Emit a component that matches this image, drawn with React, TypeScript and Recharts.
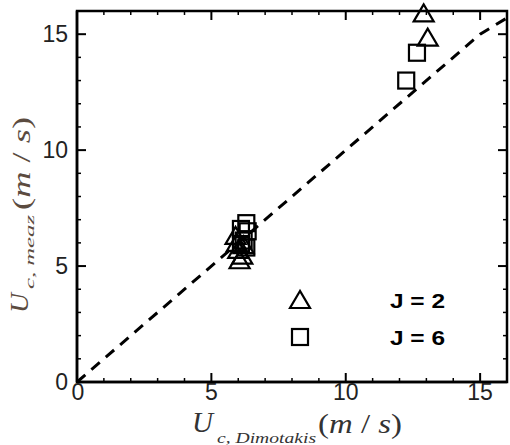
import React from "react";
import { ScatterChart, Scatter, XAxis, YAxis, ReferenceArea } from "recharts";

const xTicks = [0, 1, 2, 3, 4, 5, 6, 7, 8, 9, 10, 11, 12, 13, 14, 15, 16];
const yTicks = [0, 1, 2, 3, 4, 5, 6, 7, 8, 9, 10, 11, 12, 13, 14, 15, 16];
const majorLabels = [0, 5, 10, 15];

const j2X = [5.9, 5.95, 6.0, 6.05, 6.15, 6.2, 12.9, 13.05];
const j2Y = [6.3, 6.0, 5.7, 5.25, 5.45, 5.9, 15.9, 14.85];
const j6X = [6.1, 6.3, 6.35, 6.2, 6.3, 6.1, 12.65, 12.25];
const j6Y = [6.6, 6.85, 6.5, 6.1, 5.8, 5.95, 14.2, 13.0];

const fitX = [0, 15, 16];
const fitY = [0, 15, 15.7];

const legendLabels = ["J = 2", "J = 6"];

const X_MAX = 16;
const Y_MAX = 16;

const j2 = j2X.map((x, i) => ({ x, y: j2Y[i] }));
const j6 = j6X.map((x, i) => ({ x, y: j6Y[i] }));
const fit = fitX.map((x, i) => ({ x, y: fitY[i] }));

const innerX = xTicks.filter((v) => v !== 0 && v !== X_MAX);
const innerY = yTicks.filter((v) => v !== 0 && v !== Y_MAX);
const bottomMarks = innerX.map((v) => ({ x: v, y: 0, major: v % 5 === 0 }));
const topMarks = innerX.map((v) => ({ x: v, y: Y_MAX, major: v % 5 === 0 }));
const leftMarks = innerY.map((v) => ({ x: 0, y: v, major: v % 5 === 0 }));
const rightMarks = innerY.map((v) => ({ x: X_MAX, y: v, major: v % 5 === 0 }));

const TICK_FONT = "Arial, 'Liberation Sans', sans-serif";
const PLOT_TOP = 11;
const PLOT_RIGHT = 507;

const Triangle = (props: any) => {
  const { cx, cy } = props;
  if (cx == null || cy == null) return null;
  const w = 10, h = 9;
  return (
    <polygon
      points={`${cx},${cy - h} ${cx - w},${cy + h - 1} ${cx + w},${cy + h - 1}`}
      fill="none"
      stroke="#000"
      strokeWidth={2.2}
    />
  );
};

const Square = (props: any) => {
  const { cx, cy } = props;
  if (cx == null || cy == null) return null;
  const s = 8;
  return (
    <rect x={cx - s} y={cy - s} width={2 * s} height={2 * s} fill="none" stroke="#000" strokeWidth={2.2} />
  );
};

const markLen = (p: any) => (p && p.major ? 9 : 4);
const markW = (p: any) => (p && p.major ? 2 : 1.5);

const MarkUp = (props: any) => {
  const { cx, cy, payload } = props;
  if (cx == null || cy == null) return null;
  return <path d={`M${cx},${cy} L${cx},${cy - markLen(payload)}`} stroke="#000" strokeWidth={markW(payload)} fill="none" />;
};
const MarkDown = (props: any) => {
  const { cx, cy, payload } = props;
  if (cx == null || cy == null) return null;
  return <path d={`M${cx},${cy} L${cx},${cy + markLen(payload)}`} stroke="#000" strokeWidth={markW(payload)} fill="none" />;
};
const MarkRight = (props: any) => {
  const { cx, cy, payload } = props;
  if (cx == null || cy == null) return null;
  return <path d={`M${cx},${cy} L${cx + markLen(payload)},${cy}`} stroke="#000" strokeWidth={markW(payload)} fill="none" />;
};
const MarkLeft = (props: any) => {
  const { cx, cy, payload } = props;
  if (cx == null || cy == null) return null;
  return <path d={`M${cx},${cy} L${cx - markLen(payload)},${cy}`} stroke="#000" strokeWidth={markW(payload)} fill="none" />;
};

const NoShape = () => <g />;

const XTick = (props: any) => {
  const { x, y, payload } = props;
  const v = payload.value;
  if (!majorLabels.includes(v)) return <g />;
  return (
    <text x={v === 0 ? x + 1 : x} y={y + 18} textAnchor="middle" fontSize={23} fontFamily={TICK_FONT} fill="#222">
      {v}
    </text>
  );
};

const YTick = (props: any) => {
  const { x, y, payload } = props;
  const v = payload.value;
  if (!majorLabels.includes(v)) return <g />;
  return (
    <text x={x - 9} y={y + 8} textAnchor="end" fontSize={23} fontFamily={TICK_FONT} fill="#222">
      {v}
    </text>
  );
};

const XTitle = () => (
  <g fill="#333" fontFamily="'Liberation Serif', 'Times New Roman', serif">
    <text x={192} y={432} fontSize={30} fontStyle="italic" textLength={21} lengthAdjust="spacingAndGlyphs">U</text>
    <text x={217} y={443} fontSize={14} fontStyle="italic" textLength={99} lengthAdjust="spacingAndGlyphs">c, Dimotakis</text>
    <text x={318} y={433} fontSize={28} textLength={84} lengthAdjust="spacingAndGlyphs">
      (<tspan fontStyle="italic">m</tspan> / <tspan fontStyle="italic">s</tspan>)
    </text>
  </g>
);

const YTitle = () => (
  <g transform="translate(28, 0) rotate(-90)" fill="#5b4b40" fontFamily="'Liberation Serif', 'Times New Roman', serif">
    <text x={-313} y={0} fontSize={25} fontStyle="italic" textLength={20} lengthAdjust="spacingAndGlyphs">U</text>
    <text x={-289} y={6} fontSize={12} fontStyle="italic" textLength={74} lengthAdjust="spacingAndGlyphs">c, meaz</text>
    <text x={-210} y={2} fontSize={25} textLength={93} lengthAdjust="spacingAndGlyphs">
      (<tspan fontStyle="italic">m</tspan> / <tspan fontStyle="italic">s</tspan>)
    </text>
  </g>
);

const LegendBox = () => (
  <g transform="translate(280, 282)">
    <Triangle cx={20} cy={18} />
    <Square cx={20} cy={55} />
    <text x={110} y={26} fontSize={21} fontWeight="bold" fontFamily={TICK_FONT} fill="#000" textLength={55} lengthAdjust="spacingAndGlyphs">{legendLabels[0]}</text>
    <text x={110} y={63} fontSize={21} fontWeight="bold" fontFamily={TICK_FONT} fill="#000" textLength={55} lengthAdjust="spacingAndGlyphs">{legendLabels[1]}</text>
  </g>
);

export default function App() {
  return (
    <div style={{ position: "absolute", left: 0, top: 0 }}>
      <ScatterChart width={510} height={445} margin={{ top: PLOT_TOP, right: 510 - PLOT_RIGHT, left: 0, bottom: 0 }}>
        <XAxis
          type="number"
          dataKey="x"
          domain={[0, X_MAX]}
          ticks={xTicks}
          interval={0}
          height={63}
          tickSize={0}
          tickMargin={0}
          tickLine={false}
          axisLine={{ stroke: "#000", strokeWidth: 2.5 }}
          tick={<XTick />}
        />
        <YAxis
          type="number"
          dataKey="y"
          domain={[0, Y_MAX]}
          ticks={yTicks}
          interval={0}
          width={77}
          tickSize={0}
          tickMargin={0}
          tickLine={false}
          axisLine={{ stroke: "#000", strokeWidth: 2.5 }}
          tick={<YTick />}
        />
        <ReferenceArea x1={0} x2={X_MAX} y1={0} y2={Y_MAX} fill="none" fillOpacity={0} stroke="#000" strokeWidth={2.5} ifOverflow="visible" />
        <Scatter data={bottomMarks} shape={<MarkUp />} isAnimationActive={false} />
        <Scatter data={topMarks} shape={<MarkDown />} isAnimationActive={false} />
        <Scatter data={leftMarks} shape={<MarkRight />} isAnimationActive={false} />
        <Scatter data={rightMarks} shape={<MarkLeft />} isAnimationActive={false} />
        <Scatter
          data={fit}
          line={{ stroke: "#000", strokeWidth: 3, strokeDasharray: "11 8" }}
          lineType="joint"
          shape={<NoShape />}
          isAnimationActive={false}
        />
        <Scatter data={j2} shape={<Triangle />} isAnimationActive={false} />
        <Scatter data={j6} shape={<Square />} isAnimationActive={false} />
        <XTitle />
        <YTitle />
        <LegendBox />
      </ScatterChart>
    </div>
  );
}
